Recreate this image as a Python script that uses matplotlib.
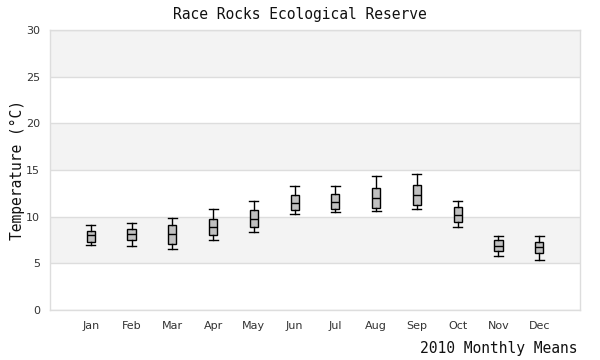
import matplotlib
matplotlib.use('Agg')
import matplotlib.pyplot as plt

months = ['Jan', 'Feb', 'Mar', 'Apr', 'May', 'Jun', 'Jul', 'Aug', 'Sep', 'Oct', 'Nov', 'Dec']
whisker_low = [6.96, 6.86, 6.50, 7.46, 8.36, 10.29, 10.46, 10.57, 10.79, 8.86, 5.75, 5.32]
q1 = [7.25, 7.46, 7.04, 8.00, 8.86, 10.68, 10.79, 10.89, 11.21, 9.39, 6.29, 6.07]
median = [8.00, 8.11, 8.11, 8.86, 9.75, 11.43, 11.54, 11.96, 12.29, 10.14, 6.82, 6.71]
q3 = [8.43, 8.64, 9.07, 9.71, 10.68, 12.29, 12.39, 13.04, 13.36, 11.00, 7.46, 7.25]
whisker_high = [9.07, 9.29, 9.82, 10.80, 11.64, 13.25, 13.25, 14.32, 14.54, 11.64, 7.89, 7.89]
y_ticks = [0, 5, 10, 15, 20, 25, 30]

mono = 'DejaVu Sans Mono'

fig = plt.figure(figsize=(6, 3.6), dpi=100)
ax = fig.add_axes([50/600, 1 - 310/360, 530/600, 280/360])

# alternating background bands
for i in range(len(y_ticks) - 1):
    if i % 2 == 1:
        ax.axhspan(y_ticks[i], y_ticks[i + 1], color='#f3f3f3', lw=0, zorder=0)
for t in y_ticks:
    ax.axhline(t, color='#dddddd', lw=1, zorder=1)

stats = []
for i, m in enumerate(months):
    stats.append(dict(label=m, whislo=whisker_low[i], q1=q1[i], med=median[i],
                      q3=q3[i], whishi=whisker_high[i], fliers=[]))

pos = list(range(1, len(months) + 1))
ax.bxp(stats, positions=pos, widths=0.2, patch_artist=True, showfliers=False,
       boxprops=dict(facecolor='#c0c0c0', edgecolor='black', linewidth=1),
       medianprops=dict(color='black', linewidth=1),
       whiskerprops=dict(color='black', linewidth=1),
       capprops=dict(color='black', linewidth=1),
       capwidths=0.22, zorder=3)

ax.set_xlim(0, 13)
ax.set_ylim(0, 30)
ax.set_yticks(y_ticks)
ax.set_xticks(pos)
ax.set_xticklabels(months)
ax.tick_params(length=0, labelsize=8, colors='#333333', pad=8)
ax.tick_params(axis='y', pad=7)
for s in ax.spines.values():
    s.set_color('#dddddd')
    s.set_linewidth(1)

fig.text(0.5, 1 - 14/360, 'Race Rocks Ecological Reserve', ha='center', va='center',
         family=mono, fontsize=10.5, color='#111111')
fig.text(578/600, 1 - 348/360, '2010 Monthly Means', ha='right', va='center',
         family=mono, fontsize=10.5, color='#111111')
fig.text(17/600, 1 - 170/360, 'Temperature (°C)', ha='center', va='center',
         rotation=90, family=mono, fontsize=10.5, color='#111111')

fig.savefig('out.png', dpi=100, facecolor='white')
